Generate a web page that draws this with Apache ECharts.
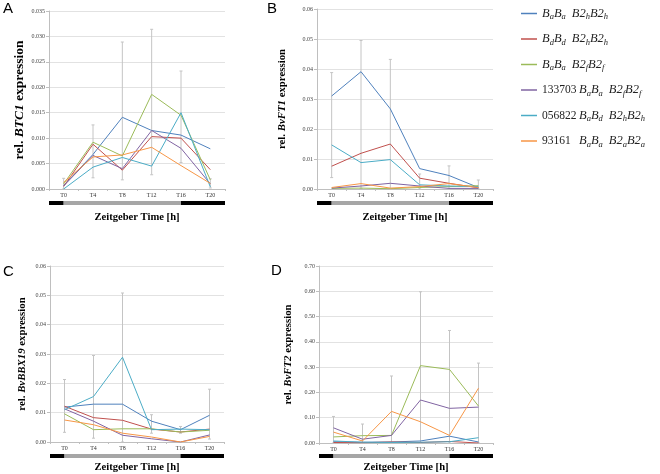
<!DOCTYPE html>
<html>
<head>
<meta charset="utf-8">
<script src="https://cdn.jsdelivr.net/npm/echarts@6/dist/echarts.min.js"></script>
<style>
  html, body { margin: 0; padding: 0; background: #fff; }
  #chart { width: 660px; height: 474px; }
</style>
</head>
<body>
<div id="chart"></div>
<script>
var chart = echarts.init(document.getElementById('chart'));

const times = ['T0', 'T4', 'T8', 'T12', 'T16', 'T20'];

// legend entries: accession number, B alleles, B2 allele
const accession = ['', '', '', '133703', '056822', '93161'];
const alleleB = [['a', 'a'], ['d', 'd'], ['a', 'a'], ['a', 'a'], ['a', 'd'], ['a', 'a']];
const alleleB2 = ['h', 'h', 'f', 'f', 'h', 'a'];

// light regime in hours (bar under each x axis)
const phaseFrom = [-2, 0, 16];
const phaseTo = [0, 16, 22];
const phaseLight = [false, true, false];

// A: rel. BTC1, one row per genotype (legend order)
const btc1 = [
  [0.0007, 0.0068, 0.0141, 0.0115, 0.0106, 0.0079],
  [0.0005, 0.0088, 0.0037, 0.0103, 0.0100, 0.0038],
  [0.0010, 0.0092, 0.0065, 0.0186, 0.0145, 0.0018],
  [0.0006, 0.0066, 0.0040, 0.0115, 0.0080, 0.0010],
  [0.0000, 0.0043, 0.0062, 0.0045, 0.0150, 0.0004],
  [0.0013, 0.0063, 0.0067, 0.0082, 0.0046, 0.0011]
];
const btc1Low = [0.0000, 0.0022, 0.0018, 0.0028, 0.0052, 0.0002];
const btc1High = [0.0021, 0.0126, 0.0289, 0.0314, 0.0232, 0.0020];

// B: rel. BvFT1
const bvft1 = [
  [0.0310, 0.0391, 0.0267, 0.0068, 0.0045, 0.0005],
  [0.0076, 0.0119, 0.0150, 0.0036, 0.0019, 0.0004],
  [0.0002, 0.0003, 0.0001, 0.0005, 0.0008, 0.0011],
  [0.0003, 0.0010, 0.0019, 0.0010, 0.0002, 0.0002],
  [0.0147, 0.0088, 0.0098, 0.0014, 0.0010, 0.0008],
  [0.0005, 0.0018, 0.0003, 0.0008, 0.0018, 0.0005]
];
const bvft1Low = [0.0038, 0.0002, 0.0000, 0.0000, 0.0000, 0.0000];
const bvft1High = [0.0388, 0.0495, 0.0432, 0.0050, 0.0077, 0.0030];

// C: rel. BvBBX19
const bvbbx19 = [
  [0.0119, 0.0129, 0.0129, 0.0071, 0.0042, 0.0091],
  [0.0122, 0.0083, 0.0074, 0.0044, 0.0034, 0.0044],
  [0.0096, 0.0042, 0.0045, 0.0045, 0.0034, 0.0040],
  [0.0113, 0.0071, 0.0023, 0.0011, 0.0000, 0.0024],
  [0.0110, 0.0155, 0.0289, 0.0042, 0.0044, 0.0042],
  [0.0075, 0.0059, 0.0030, 0.0017, 0.0000, 0.0019]
];
const bvbbx19Low = [0.0033, 0.0013, 0.0000, 0.0030, 0.0030, 0.0010];
const bvbbx19High = [0.0213, 0.0295, 0.0508, 0.0093, 0.0053, 0.0180];

// D: rel. BvFT2
const bvft2 = [
  [0.005, 0.003, 0.004, 0.008, 0.027, 0.004],
  [0.002, 0.001, 0.004, 0.002, 0.006, 0.000],
  [0.024, 0.029, 0.030, 0.306, 0.291, 0.146],
  [0.060, 0.015, 0.030, 0.170, 0.137, 0.142],
  [0.008, 0.003, 0.002, 0.003, 0.005, 0.021],
  [0.043, 0.008, 0.125, 0.084, 0.030, 0.217]
];
const bvft2Low = [0.000, 0.000, 0.000, 0.000, 0.000, 0.000];
const bvft2High = [0.105, 0.075, 0.265, 0.598, 0.445, 0.316];

const colors = ['#4F81BD', '#C0504D', '#9BBB59', '#8064A2', '#4BACC6', '#F79646'];
const serif = 'Liberation Serif';

const panels = [
  { letter: 'A', gene: 'BTC1', data: btc1, low: btc1Low, high: btc1High, max: 0.035, step: 0.005, dec: 3,
    left: 49, top: 11, width: 176, height: 178, barTop: 201, nameSize: 13.5, yGap: 22, xGap: 23, lx: 3, ly: 1 },
  { letter: 'B', gene: 'BvFT1', data: bvft1, low: bvft1Low, high: bvft1High, max: 0.06, step: 0.01, dec: 2,
    left: 317, top: 9, width: 176, height: 180, barTop: 201, nameSize: 10.8, yGap: 29, xGap: 23, lx: 267, ly: 1 },
  { letter: 'C', gene: 'BvBBX19', data: bvbbx19, low: bvbbx19Low, high: bvbbx19High, max: 0.06, step: 0.01, dec: 2,
    left: 50, top: 266, width: 174, height: 176, barTop: 454, nameSize: 10.8, yGap: 22, xGap: 20, lx: 3, ly: 264 },
  { letter: 'D', gene: 'BvFT2', data: bvft2, low: bvft2Low, high: bvft2High, max: 0.7, step: 0.1, dec: 2,
    left: 319, top: 266, width: 174, height: 177, barTop: 454, nameSize: 10.8, yGap: 25, xGap: 19, lx: 271, ly: 263 }
];

function genotypeName(i) {
  return (accession[i] ? accession[i] + ' ' : '') + 'B' + alleleB[i][0] + 'B' + alleleB[i][1] +
    ' B2' + alleleB2[i] + 'B2' + alleleB2[i];
}
function genotypeRich(i) {
  let s = accession[i] ? '{n|' + accession[i] + '}' : '';
  s += '{i|B}{s|' + alleleB[i][0] + '}{i|B}{s|' + alleleB[i][1] + '}{g| }';
  s += '{i|B2}{s|' + alleleB2[i] + '}{i|B2}{s|' + alleleB2[i] + '}';
  return s;
}
const names = accession.map((_, i) => genotypeName(i));

const grids = [], xAxes = [], yAxes = [], series = [], titles = [];

panels.forEach(function (p, k) {
  const gi = k * 2;
  grids.push({ left: p.left, top: p.top, width: p.width, height: p.height });
  grids.push({ left: p.left, top: p.barTop, width: p.width, height: 4 });

  titles.push({
    text: p.letter, left: p.lx, top: p.ly, padding: 0,
    textStyle: { fontSize: 15, fontWeight: 'normal', fontFamily: 'Liberation Sans', color: '#000' }
  });

  xAxes.push({
    type: 'category', gridIndex: gi, data: times,
    name: 'Zeitgeber Time [h]', nameLocation: 'middle', nameGap: p.xGap,
    nameTextStyle: { fontFamily: serif, fontWeight: 'bold', fontSize: 10.6, color: '#000' },
    axisLine: { lineStyle: { color: '#bfbfbf', width: 1 } },
    axisTick: { show: true, length: 2, lineStyle: { color: '#bfbfbf' } },
    axisLabel: { fontFamily: serif, fontSize: 6, color: '#333', margin: 3 },
    splitLine: { show: false }
  });
  xAxes.push({ type: 'value', gridIndex: gi + 1, min: -2, max: 22, show: false });

  yAxes.push({
    type: 'value', gridIndex: gi, min: 0, max: p.max, interval: p.step,
    name: '{b|rel. }{bi|' + p.gene + '}{b| expression}',
    nameLocation: 'middle', nameGap: p.yGap,
    nameTextStyle: {
      rich: {
        b: { fontFamily: serif, fontWeight: 'bold', fontSize: p.nameSize, color: '#000' },
        bi: { fontFamily: serif, fontWeight: 'bold', fontStyle: 'italic', fontSize: p.nameSize, color: '#000' }
      }
    },
    axisLine: { show: true, lineStyle: { color: '#bfbfbf', width: 1 } },
    axisTick: { show: true, length: 3, lineStyle: { color: '#bfbfbf' } },
    axisLabel: {
      fontFamily: serif, fontSize: 6, color: '#444', margin: 4,
      formatter: function (v) { return v.toFixed(p.dec); }
    },
    splitLine: { lineStyle: { color: '#e2e2e2', width: 1 } }
  });
  yAxes.push({ type: 'value', gridIndex: gi + 1, min: 0, max: 1, show: false });

  // error bars (envelope per time point)
  series.push({
    type: 'custom', xAxisIndex: gi, yAxisIndex: gi, z: 1, silent: true,
    data: times.map((t, j) => [j, p.low[j], p.high[j]]),
    renderItem: function (params, api) {
      const top = api.coord([api.value(0), api.value(2)]);
      const bot = api.coord([api.value(0), api.value(1)]);
      const st = { stroke: '#c4c4c4', lineWidth: 1 };
      return {
        type: 'group',
        children: [
          { type: 'line', shape: { x1: top[0], y1: top[1], x2: bot[0], y2: bot[1] }, style: st },
          { type: 'line', shape: { x1: top[0] - 1.5, y1: top[1], x2: top[0] + 1.5, y2: top[1] }, style: st },
          { type: 'line', shape: { x1: bot[0] - 1.5, y1: bot[1], x2: bot[0] + 1.5, y2: bot[1] }, style: st }
        ]
      };
    }
  });

  p.data.forEach(function (row, i) {
    series.push({
      name: names[i], type: 'line', xAxisIndex: gi, yAxisIndex: gi, z: 3,
      data: row, symbol: 'none', color: colors[i],
      lineStyle: { width: 1, color: colors[i] }
    });
  });

  // light / dark bar
  series.push({
    type: 'custom', xAxisIndex: gi + 1, yAxisIndex: gi + 1, silent: true,
    data: phaseFrom.map((f, j) => [f, phaseTo[j], phaseLight[j] ? 1 : 0]),
    renderItem: function (params, api) {
      const a = api.coord([api.value(0), 1]);
      const b = api.coord([api.value(1), 0]);
      return {
        type: 'rect',
        shape: { x: a[0], y: a[1], width: b[0] - a[0], height: b[1] - a[1] },
        style: { fill: api.value(2) ? '#a6a6a6' : '#000' }
      };
    }
  });
});

chart.setOption({
  animation: false,
  title: titles,
  grid: grids,
  xAxis: xAxes,
  yAxis: yAxes,
  legend: {
    data: names, orient: 'vertical', left: 521, top: 1, padding: 0,
    icon: 'rect', itemWidth: 16, itemHeight: 1.5, itemGap: 0.5,
    formatter: function (name) { return genotypeRich(names.indexOf(name)); },
    textStyle: {
      color: '#222',
      rich: {
        n: { fontFamily: serif, fontSize: 11.5, width: 37, height: 18, lineHeight: 18, color: '#222' },
        i: { fontFamily: serif, fontStyle: 'italic', fontSize: 12.5, height: 18, lineHeight: 18, color: '#222' },
        s: { fontFamily: serif, fontStyle: 'italic', fontSize: 8.5, height: 18, lineHeight: 18, padding: [7, 0, 0, 0], color: '#222' },
        g: { fontFamily: serif, fontSize: 12, width: 6, height: 18, lineHeight: 18 }
      }
    }
  },
  series: series
});
</script>
</body>
</html>
